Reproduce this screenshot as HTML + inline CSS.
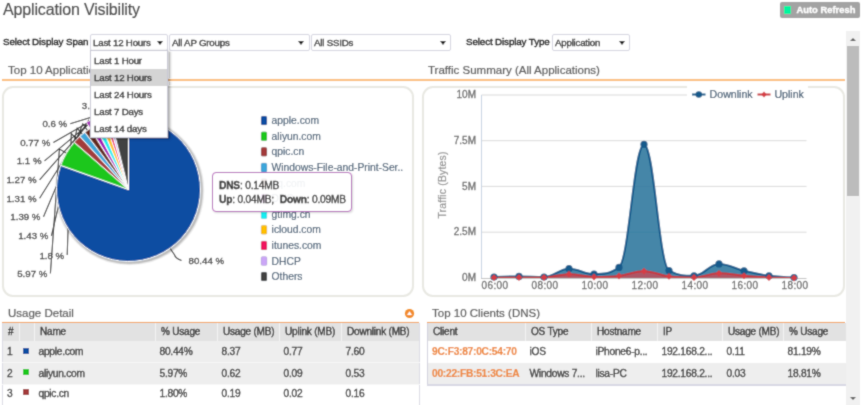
<!DOCTYPE html>
<html><head><meta charset="utf-8">
<style>
*{box-sizing:border-box;margin:0;padding:0}
html,body{width:865px;height:405px;overflow:hidden;background:#fff}
body{position:relative;font-family:"Liberation Sans",sans-serif;color:#333;-webkit-text-stroke:0.35px currentColor}
.a{position:absolute;white-space:nowrap}
.title{left:3px;top:1px;font-size:16px;letter-spacing:-0.15px;color:#505050;-webkit-text-stroke:0.15px #505050}
.lbl{font-size:9.8px;letter-spacing:-0.12px;color:#2a2a2a}
.sel{position:absolute;height:17px;top:34px;border:1px solid #d4d4e0;border-radius:2px;background:#fff;font-size:9.7px;letter-spacing:-0.2px;color:#2a2a2a;padding:2px 0 0 2px;white-space:nowrap}
.arr{position:absolute;width:0;height:0;border-left:3px solid transparent;border-right:3px solid transparent;border-top:4px solid #111;top:6px;margin-left:-1px}
.btn{left:780px;top:2px;width:80px;height:15.5px;background:#a3a3a3;border-radius:2px}
.btn i{position:absolute;left:4px;top:4px;width:7px;height:8px;background:#00f5a0}
.btn span{position:absolute;left:16.5px;top:1.5px;font-size:9.4px;font-weight:bold;color:#fff}
.sb{left:846px;top:31px;width:14px;height:374px;background:#f1f1f1}
.sbt{left:847px;top:46px;width:12px;height:150px;background:#bcbcbc}
.hdr{font-size:11.5px;color:#606060;-webkit-text-stroke:0.2px #606060}
.oline{height:2px;background:#fbbf85}
.panel{border:2px solid #e8e8e2;border-radius:11px;background:#fff}
.dd{left:90px;top:50px;width:78px;height:88px;background:#fff;border:1px solid #c8c8d4;box-shadow:1.5px 0.5px 2.5px rgba(0,0,0,.35)}
.dd div{height:17px;font-size:9.7px;letter-spacing:-0.2px;padding:3px 0 0 3px;color:#2a2a2a}
.dd div:first-child{height:18px;padding-top:4px}
.dd .hl{background:#d4d4d4}
.tip{left:212px;top:172px;width:140px;height:40px;border:1px solid #b35bb8;border-radius:4px;background:rgba(255,255,255,.92);box-shadow:1px 1px 2px rgba(0,0,0,.15);font-size:10.2px;letter-spacing:-0.2px;color:#333;padding:5.5px 0 0 6px;line-height:14.4px}
.tip b{font-weight:bold}
table{border-collapse:collapse;position:absolute;font-size:9.6px;color:#333;table-layout:fixed}
td,th{white-space:nowrap;overflow:hidden;text-align:left;font-weight:normal;padding:0 0 0 5px}
th{background:#e2e2e2;height:18px;border-left:1px solid #f3f3f3;padding-bottom:1.6px;color:#2a2a2a;font-size:10px;letter-spacing:-0.2px}
th:first-child{border-left:none}
td{height:21.5px;font-size:10.2px;letter-spacing:-0.25px;padding-left:4px}
.g td{border-bottom:1px solid #f7f7f7}
.g.last td{border-bottom:2px solid #d8d8e4;height:22px}
.g td{background:#eeeeee}
.w td{background:#fff}
.sq{display:inline-block;width:6px;height:6px;position:relative;top:-1.5px;left:-1px}
.w3 td{padding-bottom:4px}
.or{color:#ee8434;font-weight:bold;-webkit-text-stroke:0.15px #ee8434}
</style></head>
<body><svg width="0" height="0" style="position:absolute"><filter id="bl" x="0" y="0" width="100%" height="100%"><feConvolveMatrix order="3" kernelMatrix="0.03 0.1 0.03 0.1 0.48 0.1 0.03 0.1 0.03" edgeMode="duplicate"/></filter></svg><div id="root" style="position:absolute;left:0;top:0;width:865px;height:405px;filter:url(#bl)">
<div class="a title">Application Visibility</div>
<div class="a btn"><i></i><span>Auto Refresh</span></div>

<div class="a lbl" style="left:3px;top:36.3px">Select Display Span</div>
<div class="sel" style="left:90px;width:78px">Last 12 Hours<span class="arr" style="left:67px"></span></div>
<div class="sel" style="left:169px;width:141px">All AP Groups<span class="arr" style="left:129px"></span></div>
<div class="sel" style="left:311px;width:140px">All SSIDs<span class="arr" style="left:129px"></span></div>
<div class="a lbl" style="left:466px;top:36.3px">Select Display Type</div>
<div class="sel" style="left:552px;width:78px">Application<span class="arr" style="left:67px"></span></div>

<div class="a sb"></div>
<div class="a sbt"></div>
<div class="a" style="left:850px;top:37.5px;width:0;height:0;border-left:3px solid transparent;border-right:3px solid transparent;border-bottom:3px solid #5a5a5a"></div>
<div class="a" style="left:849.5px;top:397px;width:0;height:0;border-left:3px solid transparent;border-right:3px solid transparent;border-top:3px solid #5a5a5a"></div>

<div class="a hdr" style="left:8px;top:64px">Top 10 Applications</div>
<div class="a hdr" style="left:428px;top:64px">Traffic Summary (All Applications)</div>
<div class="a oline" style="left:2px;top:79px;width:843px"></div>

<div class="a panel" style="left:2px;top:86px;width:412px;height:211px"></div>
<div class="a panel" style="left:422px;top:86px;width:423px;height:211px"></div>
<svg class="a" style="left:0;top:0" width="420" height="300" viewBox="0 0 420 300">
<defs><filter id="sh" x="-10%" y="-10%" width="130%" height="130%"><feGaussianBlur in="SourceAlpha" stdDeviation="1"/><feOffset dx="1" dy="1"/><feComponentTransfer><feFuncA type="linear" slope="0.4"/></feComponentTransfer><feMerge><feMergeNode/><feMergeNode in="SourceGraphic"/></feMerge></filter></defs>
<g><path d="M115.0 105.3L118.7 110.1L119.7 118.0" fill="none" stroke="#2a2a2a" stroke-width="1.1"/><path d="M70.2 123.7L107.5 112.3L109.6 120.0" fill="none" stroke="#2a2a2a" stroke-width="1.1"/><path d="M53.4 142.4L104.2 113.3L106.7 120.9" fill="none" stroke="#2a2a2a" stroke-width="1.1"/><path d="M44.5 160.8L99.8 114.8L102.7 122.3" fill="none" stroke="#2a2a2a" stroke-width="1.1"/><path d="M39.6 179.8L94.3 117.2L97.7 124.4" fill="none" stroke="#2a2a2a" stroke-width="1.1"/><path d="M39.6 198.2L88.6 120.2L92.6 127.1" fill="none" stroke="#2a2a2a" stroke-width="1.1"/><path d="M43.5 216.8L82.8 123.8L87.4 130.4" fill="none" stroke="#2a2a2a" stroke-width="1.1"/><path d="M51.4 235.8L77.2 128.1L82.3 134.2" fill="none" stroke="#2a2a2a" stroke-width="1.1"/><path d="M67.2 255.0L71.3 133.6L77.0 139.2" fill="none" stroke="#2a2a2a" stroke-width="1.1"/><path d="M50.4 273.4L59.4 149.1L66.4 153.1" fill="none" stroke="#2a2a2a" stroke-width="1.1"/><path d="M181.5 260.5Q175 258 174.6 254.9L170.0 248.3" fill="none" stroke="#2a2a2a" stroke-width="1.1"/></g>
<g transform="translate(1 1)" fill="none" stroke="#000"><circle cx="128.5" cy="189.5" r="72" stroke-opacity="0.07" stroke-width="5.5"/><circle cx="128.5" cy="189.5" r="72" stroke-opacity="0.1" stroke-width="3.5"/><circle cx="128.5" cy="189.5" r="72" stroke-opacity="0.12" stroke-width="2"/></g><g><path d="M128.5 189.5L128.50 117.50A72 72 0 1 1 60.67 165.37Z" fill="#0b4da2" stroke="#fff" stroke-width="1" stroke-linejoin="round"/><path d="M128.5 189.5L60.67 165.37A72 72 0 0 1 74.22 142.19Z" fill="#1fc71f" stroke="#fff" stroke-width="1" stroke-linejoin="round"/><path d="M128.5 189.5L74.22 142.19A72 72 0 0 1 79.91 136.37Z" fill="#a33b3b" stroke="#fff" stroke-width="1" stroke-linejoin="round"/><path d="M128.5 189.5L79.91 136.37A72 72 0 0 1 84.87 132.22Z" fill="#3ca6da" stroke="#fff" stroke-width="1" stroke-linejoin="round"/><path d="M128.5 189.5L84.87 132.22A72 72 0 0 1 90.04 128.64Z" fill="#63281f" stroke="#fff" stroke-width="1" stroke-linejoin="round"/><path transform="translate(-3.6 -6.2)" d="M128.5 189.5L90.04 128.64A72 72 0 0 1 95.17 125.68Z" fill="#a300b8" stroke="#fff" stroke-width="1" stroke-linejoin="round"/><path d="M128.5 189.5L95.17 125.68A72 72 0 0 1 100.36 123.23Z" fill="#19eef2" stroke="#fff" stroke-width="1" stroke-linejoin="round"/><path d="M128.5 189.5L100.36 123.23A72 72 0 0 1 105.01 121.44Z" fill="#ffc000" stroke="#fff" stroke-width="1" stroke-linejoin="round"/><path d="M128.5 189.5L105.01 121.44A72 72 0 0 1 108.33 120.38Z" fill="#f0145e" stroke="#fff" stroke-width="1" stroke-linejoin="round"/><path d="M128.5 189.5L108.33 120.38A72 72 0 0 1 110.95 119.67Z" fill="#cba6f6" stroke="#fff" stroke-width="1" stroke-linejoin="round"/><path d="M128.5 189.5L110.95 119.67A72 72 0 0 1 128.50 117.50Z" fill="#434343" stroke="#fff" stroke-width="1" stroke-linejoin="round"/></g>
<g font-family="Liberation Sans" font-size="9.7" fill="#3a3a3a" stroke="#3a3a3a" stroke-width="0.3"><text x="112" y="108.8" text-anchor="end">3.92 %</text><text x="67.2" y="127.2" text-anchor="end">0.6 %</text><text x="50.4" y="145.9" text-anchor="end">0.77 %</text><text x="41.5" y="164.3" text-anchor="end">1.1 %</text><text x="36.6" y="183.3" text-anchor="end">1.27 %</text><text x="36.6" y="201.7" text-anchor="end">1.31 %</text><text x="40.5" y="220.3" text-anchor="end">1.39 %</text><text x="48.4" y="239.3" text-anchor="end">1.43 %</text><text x="64.2" y="258.5" text-anchor="end">1.8 %</text><text x="47.4" y="276.9" text-anchor="end">5.97 %</text><text x="188.6" y="264">80.44 %</text></g>
<g font-family="Liberation Sans" font-size="10.3" fill="#3e576f" stroke="#3e576f" stroke-width="0.15"><rect x="261" y="116.1" width="6" height="9" rx="1.5" fill="#0b4da2"/><text x="271.6" y="124.2">apple.com</text><rect x="261" y="131.7" width="6" height="9" rx="1.5" fill="#1fc71f"/><text x="271.6" y="139.8">aliyun.com</text><rect x="261" y="147.3" width="6" height="9" rx="1.5" fill="#a33b3b"/><text x="271.6" y="155.4">qpic.cn</text><rect x="261" y="162.9" width="6" height="9" rx="1.5" fill="#3ca6da"/><text x="271.6" y="171.0">Windows-File-and-Print-Ser..</text><rect x="261" y="178.5" width="6" height="9" rx="1.5" fill="#63281f"/><text x="271.6" y="186.6">qq.com</text><rect x="261" y="194.1" width="6" height="9" rx="1.5" fill="#a300b8"/><text x="271.6" y="202.2">DNS</text><rect x="261" y="209.7" width="6" height="9" rx="1.5" fill="#19eef2"/><text x="271.6" y="217.8">gtimg.cn</text><rect x="261" y="225.3" width="6" height="9" rx="1.5" fill="#ffc000"/><text x="271.6" y="233.4">icloud.com</text><rect x="261" y="240.9" width="6" height="9" rx="1.5" fill="#f0145e"/><text x="271.6" y="249.0">itunes.com</text><rect x="261" y="256.5" width="6" height="9" rx="1.5" fill="#cba6f6"/><text x="271.6" y="264.6">DHCP</text><rect x="261" y="272.1" width="6" height="9" rx="1.5" fill="#434343"/><text x="271.6" y="280.2">Others</text></g>
</svg>
<svg class="a" style="left:0;top:0" width="865" height="300" viewBox="0 0 865 300"><path d="M481.5 95.0H806.5" stroke="#d9d9d9" stroke-width="1"/><path d="M481.5 140.7H806.5" stroke="#d9d9d9" stroke-width="1"/><path d="M481.5 186.4H806.5" stroke="#d9d9d9" stroke-width="1"/><path d="M481.5 232.2H806.5" stroke="#d9d9d9" stroke-width="1"/><path d="M494 278C494.00 277.00 509.00 276.40 519.00 276.40C529.00 276.40 534.00 277.00 544.00 277.00C554.00 277.00 559.00 268.70 569.00 268.70C579.00 268.70 584.00 274.20 594.00 274.20C604.00 274.20 609.00 274.20 619.00 267.40C629.00 260.60 634.00 144.40 644.00 144.40C654.00 144.40 659.00 265.40 669.00 270.60C679.00 275.80 684.00 275.80 694.00 275.80C704.00 275.80 709.00 263.90 719.00 263.90C729.00 263.90 734.00 268.42 744.00 270.80C754.00 273.18 759.00 274.46 769.00 275.80C779.00 277.14 794.00 277.50 794.00 277.50L794 278Z" fill="#28749b" fill-opacity="0.87"/><path d="M494.00 277.70C494.00 277.70 509.00 277.50 519.00 277.50C529.00 277.50 534.00 277.50 544.00 277.50C554.00 277.50 559.00 274.20 569.00 274.20C579.00 274.20 584.00 277.00 594.00 277.00C604.00 277.00 609.00 277.00 619.00 276.00C629.00 275.00 634.00 271.20 644.00 271.20C654.00 271.20 659.00 275.30 669.00 276.40C679.00 277.50 684.00 277.50 694.00 277.50C704.00 277.50 709.00 273.30 719.00 273.30C729.00 273.30 734.00 274.96 744.00 275.80C754.00 276.64 759.00 277.06 769.00 277.50C779.00 277.94 794.00 278.00 794.00 278.00L794 278L494 278Z" fill="#c84a55" fill-opacity="0.8"/><path d="M494.00 277.00C494.00 277.00 509.00 276.40 519.00 276.40C529.00 276.40 534.00 277.00 544.00 277.00C554.00 277.00 559.00 268.70 569.00 268.70C579.00 268.70 584.00 274.20 594.00 274.20C604.00 274.20 609.00 274.20 619.00 267.40C629.00 260.60 634.00 144.40 644.00 144.40C654.00 144.40 659.00 265.40 669.00 270.60C679.00 275.80 684.00 275.80 694.00 275.80C704.00 275.80 709.00 263.90 719.00 263.90C729.00 263.90 734.00 268.42 744.00 270.80C754.00 273.18 759.00 274.46 769.00 275.80C779.00 277.14 794.00 277.50 794.00 277.50" fill="none" stroke="#135a8b" stroke-width="2" stroke-linejoin="round"/><path d="M494.00 277.70C494.00 277.70 509.00 277.50 519.00 277.50C529.00 277.50 534.00 277.50 544.00 277.50C554.00 277.50 559.00 274.20 569.00 274.20C579.00 274.20 584.00 277.00 594.00 277.00C604.00 277.00 609.00 277.00 619.00 276.00C629.00 275.00 634.00 271.20 644.00 271.20C654.00 271.20 659.00 275.30 669.00 276.40C679.00 277.50 684.00 277.50 694.00 277.50C704.00 277.50 709.00 273.30 719.00 273.30C729.00 273.30 734.00 274.96 744.00 275.80C754.00 276.64 759.00 277.06 769.00 277.50C779.00 277.94 794.00 278.00 794.00 278.00" fill="none" stroke="#c8393f" stroke-width="2" stroke-linejoin="round"/><path d="M481.5 95V278.5" stroke="#c5d2e2" stroke-width="1"/><path d="M481 278.5H806.5" stroke="#c0c0c0" stroke-width="1"/><circle cx="494" cy="277" r="3.6" fill="#135a8b"/><circle cx="519" cy="276.4" r="3.6" fill="#135a8b"/><circle cx="544" cy="277" r="3.6" fill="#135a8b"/><circle cx="569" cy="268.7" r="3.6" fill="#135a8b"/><circle cx="594" cy="274.2" r="3.6" fill="#135a8b"/><circle cx="619" cy="267.4" r="3.6" fill="#135a8b"/><circle cx="644" cy="144.4" r="3.6" fill="#135a8b"/><circle cx="669" cy="270.6" r="3.6" fill="#135a8b"/><circle cx="694" cy="275.8" r="3.6" fill="#135a8b"/><circle cx="719" cy="263.9" r="3.6" fill="#135a8b"/><circle cx="744" cy="270.8" r="3.6" fill="#135a8b"/><circle cx="769" cy="275.8" r="3.6" fill="#135a8b"/><circle cx="794" cy="277.5" r="3.6" fill="#135a8b"/><path d="M494 274.3L497.4 277.7L494 281.09999999999997L490.6 277.7Z" fill="#d63d45"/><path d="M519 274.1L522.4 277.5L519 280.9L515.6 277.5Z" fill="#d63d45"/><path d="M544 274.1L547.4 277.5L544 280.9L540.6 277.5Z" fill="#d63d45"/><path d="M569 270.8L572.4 274.2L569 277.59999999999997L565.6 274.2Z" fill="#d63d45"/><path d="M594 273.6L597.4 277L594 280.4L590.6 277Z" fill="#d63d45"/><path d="M619 272.6L622.4 276L619 279.4L615.6 276Z" fill="#d63d45"/><path d="M644 267.8L647.4 271.2L644 274.59999999999997L640.6 271.2Z" fill="#d63d45"/><path d="M669 273.0L672.4 276.4L669 279.79999999999995L665.6 276.4Z" fill="#d63d45"/><path d="M694 274.1L697.4 277.5L694 280.9L690.6 277.5Z" fill="#d63d45"/><path d="M719 269.90000000000003L722.4 273.3L719 276.7L715.6 273.3Z" fill="#d63d45"/><path d="M744 272.40000000000003L747.4 275.8L744 279.2L740.6 275.8Z" fill="#d63d45"/><path d="M769 274.1L772.4 277.5L769 280.9L765.6 277.5Z" fill="#d63d45"/><path d="M794 274.6L797.4 278L794 281.4L790.6 278Z" fill="#d63d45"/><g font-family="Liberation Sans" font-size="10" fill="#666" stroke="#666" stroke-width="0.3" text-anchor="end"><text x="476" y="98.1">10M</text><text x="476" y="143.8">7.5M</text><text x="476" y="189.6">5M</text><text x="476" y="235.3">2.5M</text><text x="476" y="281.1">0M</text></g><g font-family="Liberation Sans" font-size="10" fill="#666" stroke="#666" stroke-width="0.3" text-anchor="middle" letter-spacing="0.4"><text x="495" y="289.3">06:00</text><text x="545" y="289.3">08:00</text><text x="595" y="289.3">10:00</text><text x="645" y="289.3">12:00</text><text x="695" y="289.3">14:00</text><text x="745" y="289.3">16:00</text><text x="795" y="289.3">18:00</text></g><text x="0" y="0" transform="translate(445.8 185) rotate(-90)" font-family="Liberation Sans" font-size="10.4" letter-spacing="0.2" fill="#909090" stroke="#909090" stroke-width="0.25" text-anchor="middle">Traffic (Bytes)</text><rect x="687" y="86" width="121" height="14" fill="#fff"/><path d="M692 94.5H705.5" stroke="#135a8b" stroke-width="2"/><circle cx="698.8" cy="94.5" r="3.3" fill="#135a8b"/><path d="M757.5 94.5H770.5" stroke="#c8393f" stroke-width="2"/><path d="M764 91.5L767 94.5L764 97.5L761 94.5Z" fill="#d63d45"/><g font-family="Liberation Sans" font-size="10.6" fill="#3e576f" stroke="#3e576f" stroke-width="0.2"><text x="709.6" y="98.2">Downlink</text><text x="774.4" y="98.2">Uplink</text></g></svg>
<div class="a tip"><b>DNS</b>: 0.14MB<br><b>Up</b>: 0.04MB;<span style="display:inline-block;width:5.8px"></span><b>Down</b>: 0.09MB</div>

<div class="a hdr" style="left:8px;top:307px">Usage Detail</div>
<div class="a hdr" style="left:432px;top:307px">Top 10 Clients (DNS)</div>
<svg class="a" style="left:404px;top:308px" width="11" height="11" viewBox="0 0 11 11"><circle cx="5.5" cy="5.5" r="4.6" fill="#f28a2a"/><path d="M5.5 3.2L8 6.9H3Z" fill="#fff"/></svg>
<div class="a oline" style="left:2px;top:322px;width:417px;height:1px;background:#f3a35a"></div>
<div class="a oline" style="left:427px;top:322px;width:418px;height:1px;background:#f3a35a"></div>

<table style="left:2px;top:323px;width:417px;border-left:1px solid #dadae4;border-right:1px solid #dadae4">
<colgroup><col style="width:17px"><col style="width:15px"><col style="width:121px"><col style="width:62px"><col style="width:62px"><col style="width:62px"><col style="width:78px"></colgroup>
<tr><th>#</th><th></th><th>Name</th><th>% Usage</th><th>Usage (MB)</th><th>Uplink (MB)</th><th>Downlink (MB)</th></tr>
<tr class="g"><td>1</td><td style="padding-left:4px"><span class="sq" style="background:#0b4da2"></span></td><td>apple.com</td><td>80.44%</td><td>8.37</td><td>0.77</td><td>7.60</td></tr>
<tr class="g"><td>2</td><td style="padding-left:4px"><span class="sq" style="background:#1fc71f"></span></td><td>aliyun.com</td><td>5.97%</td><td>0.62</td><td>0.09</td><td>0.53</td></tr>
<tr class="w w3"><td>3</td><td style="padding-left:4px"><span class="sq" style="background:#a33b3b"></span></td><td>qpic.cn</td><td>1.80%</td><td>0.19</td><td>0.02</td><td>0.16</td></tr>
</table>

<table style="left:427px;top:323px;width:418px;border-left:1px solid #d2d2de;border-bottom:1.5px solid #d2d2de">
<colgroup><col style="width:98px"><col style="width:66px"><col style="width:66px"><col style="width:65px"><col style="width:61px"><col style="width:62px"></colgroup>
<tr><th>Client</th><th>OS Type</th><th>Hostname</th><th>IP</th><th>Usage (MB)</th><th>% Usage</th></tr>
<tr class="w"><td class="or">9C:F3:87:0C:54:70</td><td>iOS</td><td>iPhone6-p...</td><td>192.168.2...</td><td>0.11</td><td>81.19%</td></tr>
<tr class="g last"><td class="or">00:22:FB:51:3C:EA</td><td>Windows 7...</td><td>lisa-PC</td><td>192.168.2...</td><td>0.03</td><td>18.81%</td></tr>
</table>

<div class="a dd">
<div>Last 1 Hour</div><div class="hl">Last 12 Hours</div><div>Last 24 Hours</div><div>Last 7 Days</div><div>Last 14 days</div>
</div>
</div></body></html>
